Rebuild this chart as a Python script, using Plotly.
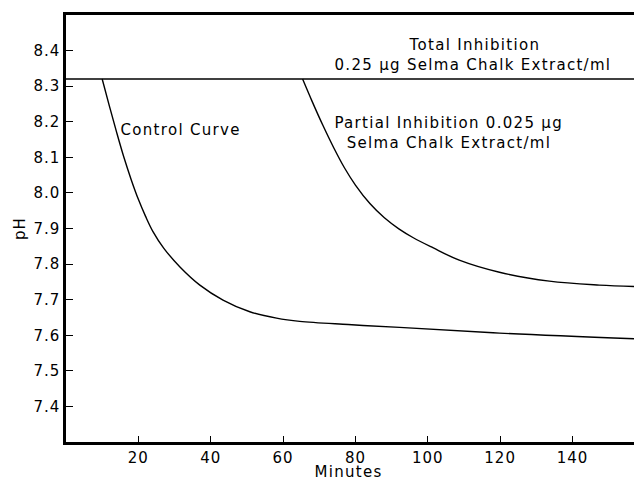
import plotly.graph_objects as go

# Data
control_min = [10, 12, 14, 16, 18, 20, 22, 24, 27, 31.5, 37, 43.4, 50.8, 58.2, 64.6, 78, 92.2, 119.8, 157]
control_ph = [8.320, 8.244, 8.170, 8.100, 8.038, 7.982, 7.934, 7.892, 7.845, 7.792, 7.741, 7.699, 7.666,
              7.648, 7.639, 7.630, 7.622, 7.606, 7.590]

partial_min = [65.4, 68, 71, 74, 77, 80, 84, 88, 92, 96, 101.4, 108.7, 119.8, 133.6, 147.4, 157]
partial_ph = [8.320, 8.258, 8.190, 8.127, 8.070, 8.022, 7.970, 7.930, 7.899, 7.874, 7.846, 7.811,
              7.777, 7.752, 7.741, 7.737]

total_min = [0, 157]
total_ph = [8.32, 8.32]

x_ticks = [20, 40, 60, 80, 100, 120, 140]
y_ticks = [7.4, 7.5, 7.6, 7.7, 7.8, 7.9, 8.0, 8.1, 8.2, 8.3, 8.4]
y_tick_labels = ["7.4", "7.5", "7.6", "7.7", "7.8", "7.9", "8.0", "8.1", "8.2", "8.3", "8.4"]

FONT = "DejaVu Sans"
FS = 15

fig = go.Figure()
fig.add_trace(go.Scatter(x=total_min, y=total_ph, mode="lines",
                         line=dict(color="black", width=1.4), name="Total Inhibition"))
fig.add_trace(go.Scatter(x=control_min, y=control_ph, mode="lines",
                         line=dict(color="black", width=1.4, shape="spline"), name="Control Curve"))
fig.add_trace(go.Scatter(x=partial_min, y=partial_ph, mode="lines",
                         line=dict(color="black", width=1.4, shape="spline"), name="Partial Inhibition"))

ann_font = dict(family=FONT, size=FS, color="black")
annotations = [
    (0.720, 0.930, "Total Inhibition"),
    (0.717, 0.883, "0.25 µg Selma Chalk Extract/ml"),
    (0.202, 0.731, "Control Curve"),
    (0.674, 0.748, "Partial Inhibition 0.025 µg"),
    (0.674, 0.701, "Selma Chalk Extract/ml"),
]
for ax, ay, txt in annotations:
    fig.add_annotation(x=ax, y=ay, xref="paper", yref="paper", text=txt, showarrow=False,
                       font=ann_font, xanchor="center", yanchor="middle")
fig.add_annotation(x=0.498, y=0, xref="paper", yref="paper", yshift=-30, text="Minutes", showarrow=False,
                   font=ann_font, xanchor="center", yanchor="middle", borderpad=0)

fig.update_layout(
    width=634, height=479,
    margin=dict(l=66, r=0, t=15, b=37),
    paper_bgcolor="white", plot_bgcolor="white",
    showlegend=False,
    font=dict(family=FONT, size=FS, color="black"),
)
fig.update_xaxes(
    range=[0, 157], tickvals=x_ticks, ticks="inside", ticklen=6, tickwidth=1.2, tickcolor="black",
    showline=True, linecolor="black", linewidth=2.5, mirror=True, showgrid=False, zeroline=False,
    automargin=False,
    tickfont=dict(family=FONT, size=FS),
)
fig.update_yaxes(
    range=[7.3, 8.5], tickvals=y_ticks, ticktext=y_tick_labels, ticks="inside", ticklen=7, tickwidth=1.2,
    tickcolor="black", showline=True, linecolor="black", linewidth=2.5, showgrid=False, zeroline=False,
    automargin=False,
    title=dict(text="pH", font=dict(family=FONT, size=FS), standoff=8),
    tickfont=dict(family=FONT, size=FS),
)

# Remove the page's default body margin, and use slightly looser tracking as in the original figure
post = """
document.body.style.margin = '0';
document.body.style.overflow = 'hidden';
document.querySelectorAll('.annotation-text').forEach(function(e){ e.style.letterSpacing = '1.3px'; });
document.querySelectorAll('.xtick text, .ytick text, .ytitle').forEach(function(e){
  e.style.letterSpacing = '1px';
});
"""
fig.write_html("out.html", post_script=post, config={"displayModeBar": False})
